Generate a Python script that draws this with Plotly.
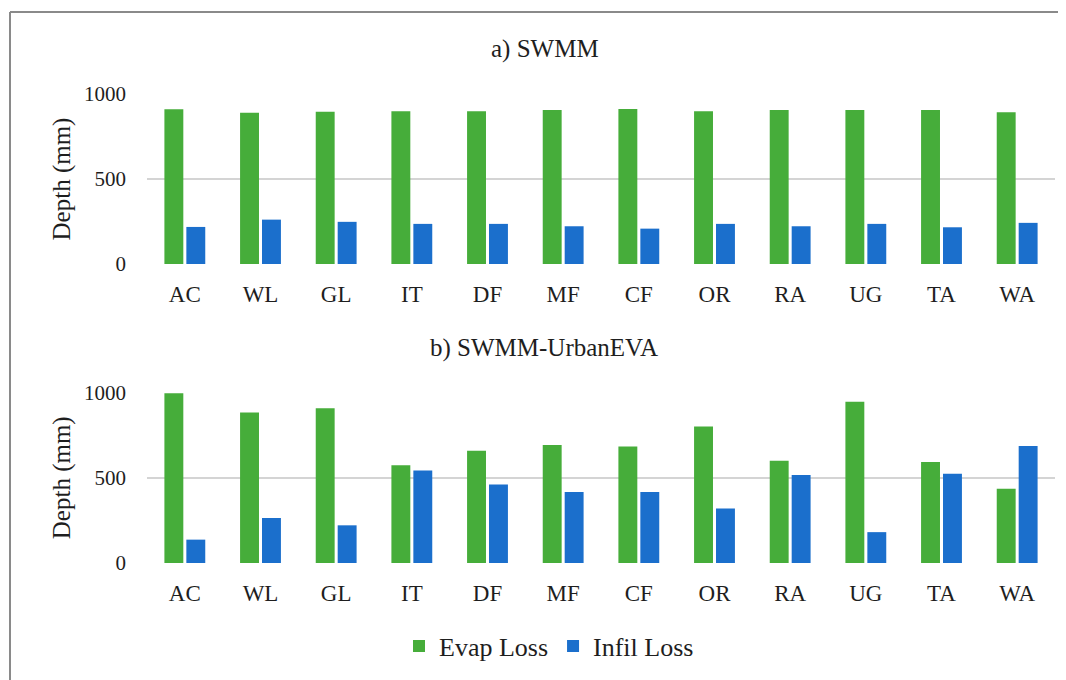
import plotly.graph_objects as go

categories = ["AC", "WL", "GL", "IT", "DF", "MF", "CF", "OR", "RA", "UG", "TA", "WA"]
swmm_evap = [910, 889, 896, 899, 899, 906, 912, 899, 906, 906, 906, 893]
swmm_infil = [218, 261, 248, 236, 236, 222, 208, 236, 222, 236, 216, 242]
uevap_evap = [995, 882, 907, 574, 658, 692, 684, 800, 600, 946, 592, 435]
uevap_infil = [137, 264, 221, 542, 460, 416, 416, 319, 516, 181, 523, 686]
series_names = ["Evap Loss", "Infil Loss"]
colors = ["#46AD3A", "#1B6FCC"]

DX, DY = 8, 8   # page offset of the plot div (body margin)
W, H = 1066, 680
FONT = "Liberation Serif"
TXT = "#1e1e1e"


def px(x):
    return (x - DX) / W


def py(y):
    return (H - (y - DY)) / H


fig = go.Figure()


def add_pair(evap, infil, xa, ya, show):
    for vals, name, col, off in [(evap, series_names[0], colors[0], -0.27),
                                 (infil, series_names[1], colors[1], 0.02)]:
        fig.add_trace(go.Bar(x=categories, y=vals, name=name, marker_color=col,
                             marker_line_width=0, width=0.25, offset=off,
                             xaxis=xa, yaxis=ya, showlegend=show,
                             legendgroup=name))


add_pair(swmm_evap, swmm_infil, "x", "y", True)
add_pair(uevap_evap, uevap_infil, "x2", "y2", False)

xd = [px(147), px(1055)]
top_dom = [py(264), py(94)]
bot_dom = [py(563), py(392.5)]

axis_x = dict(showgrid=False, showline=False, ticks="", tickfont=dict(family=FONT, size=23, color=TXT),
              ticklabelstandoff=14)
axis_y = dict(range=[0, 1000], tickvals=[0, 500, 1000], showgrid=True, gridcolor="#d4d4d4", gridwidth=2,
              zeroline=False, showline=False, ticks="", ticklabelstandoff=20,
              tickfont=dict(family=FONT, size=21, color=TXT),
              title=dict(text="Depth (mm)", font=dict(family=FONT, size=25, color=TXT), standoff=6))

fig.update_layout(
    width=W, height=H,
    margin=dict(l=0, r=0, t=0, b=0, autoexpand=False),
    paper_bgcolor="white", plot_bgcolor="white",
    xaxis=dict(domain=xd, anchor="y", **axis_x),
    yaxis=dict(domain=top_dom, anchor="x", **axis_y),
    xaxis2=dict(domain=xd, anchor="y2", **axis_x),
    yaxis2=dict(domain=bot_dom, anchor="x2", **axis_y),
    legend=dict(orientation="h", x=px(549), xanchor="center", y=py(646), yanchor="middle",
                font=dict(family=FONT, size=26, color=TXT), traceorder="normal"),
    showlegend=True,
)

fig.add_annotation(text="a) SWMM", x=px(545), y=py(49), xref="paper", yref="paper",
                   xanchor="center", yanchor="middle",
                   showarrow=False, font=dict(family=FONT, size=25, color=TXT))
fig.add_annotation(text="b) SWMM-UrbanEVA", x=px(544), y=py(348), xref="paper", yref="paper",
                   xanchor="center", yanchor="middle",
                   showarrow=False, font=dict(family=FONT, size=25, color=TXT))

border = dict(color="#8a8a8a", width=2)
fig.add_shape(type="line", xref="paper", yref="paper", x0=px(10), x1=1.0, y0=py(12), y1=py(12), line=border)
fig.add_shape(type="line", xref="paper", yref="paper", x0=px(10), x1=px(10), y0=0.0, y1=py(12), line=border)

fig.write_html("out.html")
